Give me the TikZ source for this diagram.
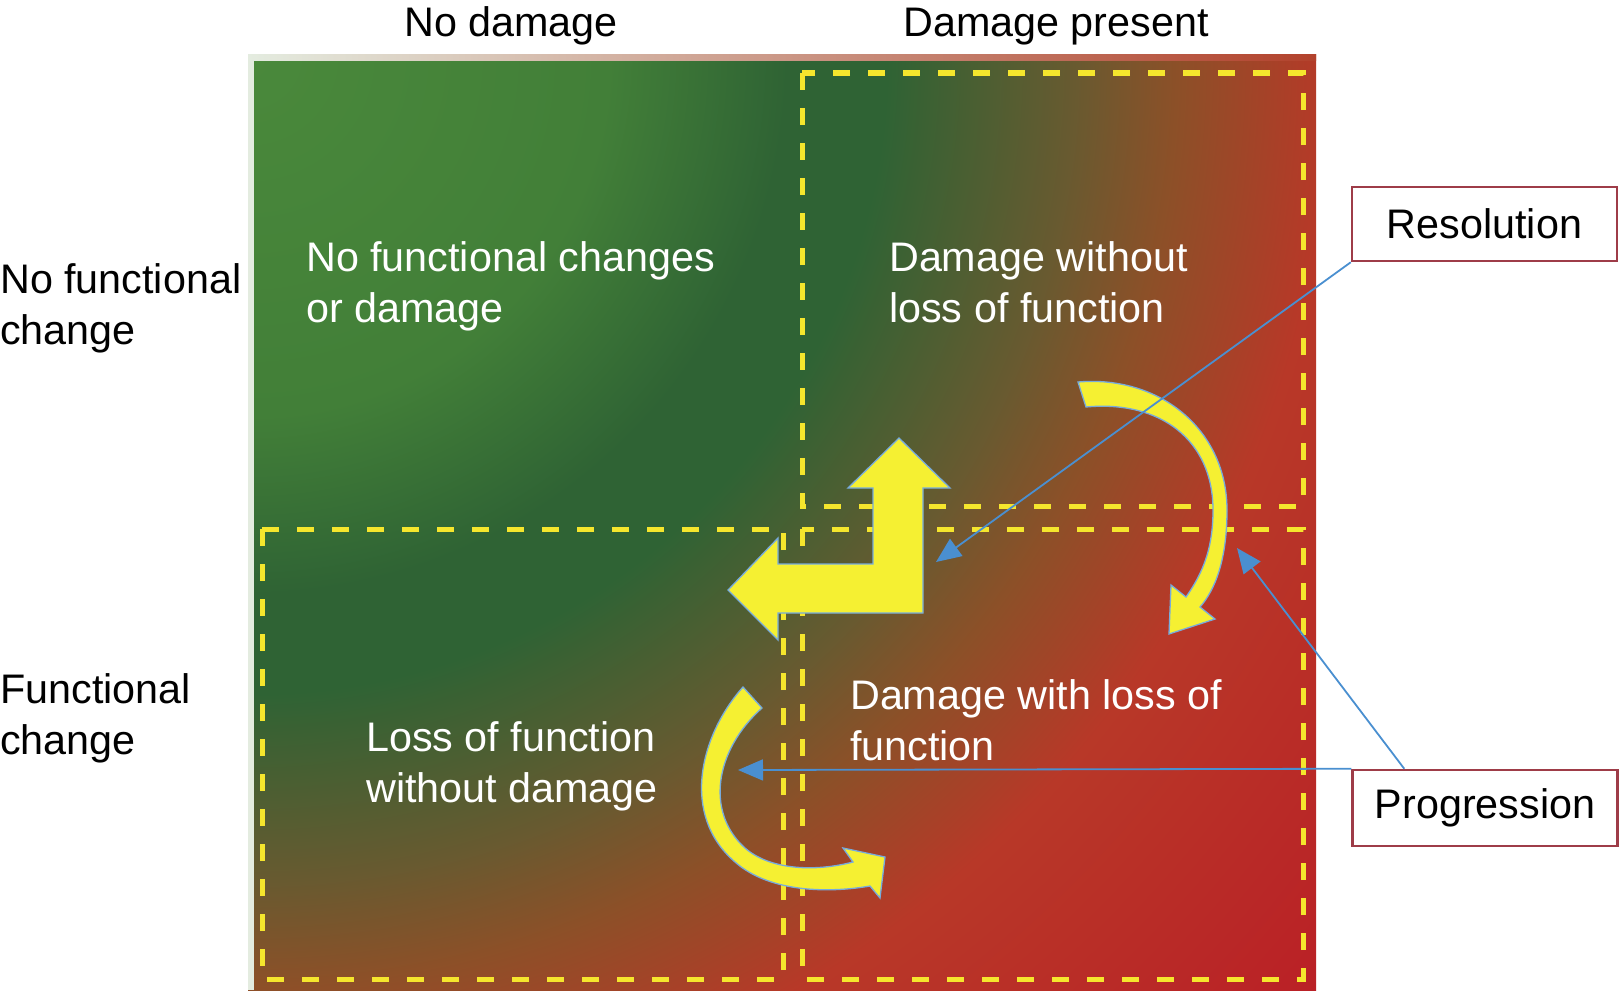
\documentclass[tikz,border=0pt]{standalone}
\usepackage{fontspec}
\setmainfont{Liberation Sans}
\usetikzlibrary{arrows.meta}
\definecolor{gA}{RGB}{74,137,59}
\definecolor{gB}{RGB}{66,127,56}
\definecolor{gDark}{RGB}{47,99,52}
\definecolor{oliveC}{RGB}{104,90,48}
\definecolor{brownC}{RGB}{140,80,40}
\definecolor{redA}{RGB}{184,56,40}
\definecolor{redB}{RGB}{186,32,38}
\definecolor{dashyellow}{RGB}{245,230,45}
\definecolor{arrowyellow}{RGB}{245,240,50}
\definecolor{connblue}{RGB}{74,143,208}
\definecolor{boxred}{RGB}{158,60,72}
\definecolor{edgelight}{RGB}{228,236,224}
\pgfdeclareradialshading{quadrad}{\pgfpoint{0bp}{0bp}}{color(0bp)=(gA); color(6.35bp)=(gB); color(9.5bp)=(gDark); color(11.25bp)=(gDark); color(14.55bp)=(oliveC); color(16.35bp)=(brownC); color(19.1bp)=(redA); color(25bp)=(redB); color(50bp)=(redB)}
\begin{document}
\begin{tikzpicture}[x=1pt,y=-1pt,
  bigfont/.style={font=\fontsize{41.3}{50.6}\selectfont},
  axislabel/.style={bigfont, text=black, inner sep=0pt},
  quadtext/.style={bigfont, text=white, inner sep=0pt, anchor=base west, align=left},
  labelbox/.style={bigfont, draw=boxred, line width=2.5pt, fill=white, minimum width=265pt, minimum height=74pt, inner sep=0pt},
  dashbox/.style={draw=dashyellow, line width=5pt, dash pattern=on 17pt off 18pt},
  conn/.style={draw=connblue, line width=1.8pt, -{Triangle[length=25pt,width=21pt]}},
  yshape/.style={fill=arrowyellow, draw=connblue!75!white, line width=1.3pt, line join=miter}
]
\useasboundingbox (0,0) rectangle (1619,998);
% background square: radial gradient centred at the top-left corner
\begin{scope}
  \clip (248,55) rectangle (1316,990);
  \shade[shading=quadrad] (-1172,-1365) rectangle (1668,1475);
\end{scope}
\fill[edgelight] (248,55) rectangle (254,990);
\shade[left color=edgelight, middle color={rgb,255:red,196;green,140;blue,110}, right color={rgb,255:red,178;green,66;blue,44}] (248,55) rectangle (1316,61);
% dashed quadrant frames
\draw[dashbox] (802,73) rectangle (1303,506);
\draw[dashbox] (262,529) rectangle (783,979);
\draw[dashbox] (802,529) rectangle (1303,979);
% axis labels (multi-line nodes: base = last line)
\node[axislabel, anchor=base] (nodmg) at (511,37) {No damage};
\node[axislabel, anchor=base] (dmgp) at (1056,37) {Damage present};
\node[axislabel, anchor=base west, align=left] (nofc) at (0,344) {No functional\\change};
\node[axislabel, anchor=base west, align=left] (fc) at (0,754) {Functional\\change};
% quadrant texts
\node[quadtext] (q1) at (306,322) {No functional changes\\or damage};
\node[quadtext] (q2) at (889,322) {Damage without\\loss of function};
\node[quadtext] (q3) at (366,802) {Loss of function\\without damage};
\node[quadtext] (q4) at (850,760) {Damage with loss of\\function};
% bent arrow (resolution)
\filldraw[yshape] (899,438) -- (950,488) -- (923,488) -- (923,613) -- (778,613) -- (778,640)
  -- (728,590) -- (778,538) -- (778,564) -- (873,564) -- (873,488) -- (848,488) -- cycle;
% curved arrow top right (progression)
\filldraw[yshape] (1078,382) .. controls (1160,375) and (1227,430) .. (1227,510)
  .. controls (1227,560) and (1215,590) .. (1200,607)
  -- (1215,619) -- (1169,634) -- (1171,585) -- (1186,597)
  .. controls (1205,570) and (1213,545) .. (1213,510)
  .. controls (1213,440) and (1160,400) .. (1086,407) -- cycle;
% curved arrow bottom left
\filldraw[yshape] (743,687) .. controls (700,735) and (680,815) .. (735,862)
  .. controls (770,893) and (830,893) .. (870,886)
  -- (880,898) -- (885,857) -- (843,848) -- (853,862)
  .. controls (815,872) and (770,870) .. (745,848)
  .. controls (705,812) and (715,750) .. (762,708) -- cycle;
% label boxes
\node[labelbox] (res) at (1484.5,224) {Resolution};
\node[labelbox, minimum height=76pt] (prog) at (1485,808) {Progression};
% connectors
\coordinate (resTip) at (936,562);
\coordinate (progTipA) at (1237,548);
\coordinate (progTipB) at (738,770);
\draw[conn] (res.south west) -- (resTip);
\draw[conn] ([xshift=53pt]prog.north west) -- (progTipA);
\draw[conn] (prog.north west) -- (progTipB);
\end{tikzpicture}
\end{document}
